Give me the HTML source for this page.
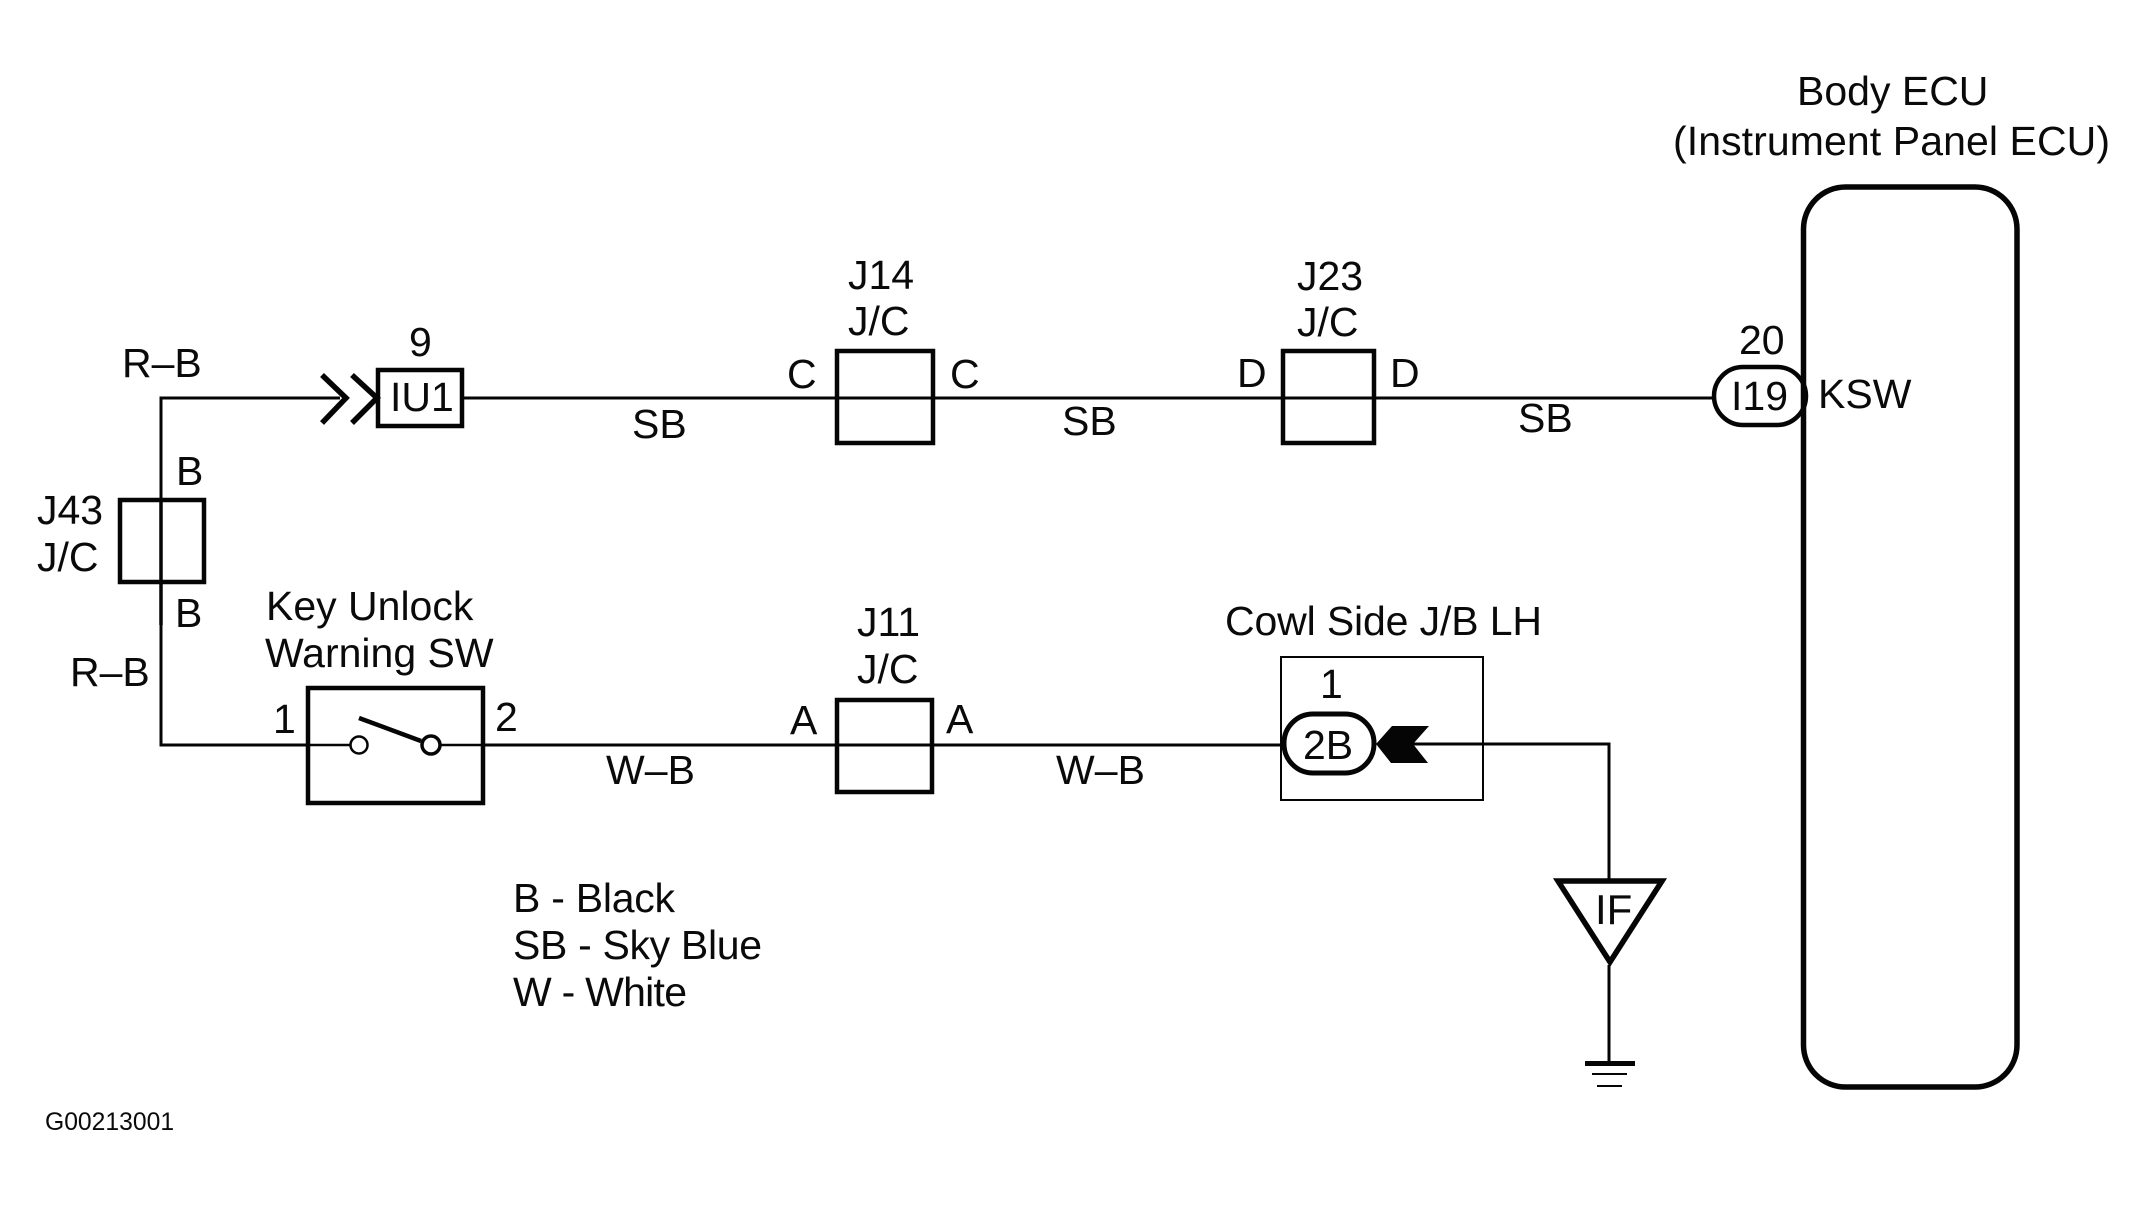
<!DOCTYPE html>
<html><head><meta charset="utf-8"><style>
html,body{margin:0;padding:0;background:#fff;width:2145px;height:1205px;overflow:hidden}
svg{display:block}
text{font-family:"Liberation Sans",sans-serif;font-size:41px;fill:#0a0a0a}
.s{fill:none;stroke:#050505}
</style></head><body>
<svg width="2145" height="1205" viewBox="0 0 2145 1205" xmlns="http://www.w3.org/2000/svg">
<g class="s" stroke-width="3">
<path d="M161 625V745H306"/>
<path d="M161 498V398H340"/>
<line x1="161" y1="498" x2="161" y2="625" stroke-width="3.5"/>
<path d="M462 398H1712"/>
<path d="M484 745H1282"/>
<path d="M306 745H350M440 745H484" stroke-width="2.5"/>
<path d="M1413 744H1609V879M1609 965V1062"/>
</g>
<g class="s" stroke-width="4.5">
<rect x="120" y="500" width="84" height="82"/>
<rect x="378" y="370" width="84" height="56"/>
<rect x="308" y="688" width="175" height="115"/>
<rect x="837" y="351" width="96" height="92"/>
<rect x="1283" y="351" width="91" height="92"/>
<rect x="837" y="700" width="95" height="92"/>
<path d="M322 375L346 398L322 423M352 375L377 398L352 423" stroke-width="5.5"/>
<line x1="359" y1="718" x2="421" y2="741" stroke-width="4.5"/>
</g>
<circle cx="359" cy="745" r="8.5" style="fill:#fff" class="s" stroke-width="2.5"/>
<circle cx="431" cy="745" r="9" style="fill:#fff" class="s" stroke-width="3.5"/>
<rect class="s" x="1281" y="657" width="202" height="143" stroke-width="2"/>
<rect x="1714" y="367" width="92" height="58" rx="29" style="fill:#fff" class="s" stroke-width="4.5"/>
<rect x="1284" y="714" width="90" height="59" rx="29" style="fill:#fff" class="s" stroke-width="5"/>
<rect class="s" x="1803.5" y="187" width="213.5" height="900" rx="42" stroke-width="5.5"/>
<polygon points="1376,744 1392,726 1429,726 1413,744 1428,763 1391,763" fill="#050505"/>
<polygon class="s" points="1558,881 1662,881 1610,962" stroke-width="5.5"/>
<rect x="1585" y="1061" width="50" height="5" fill="#050505"/>
<rect x="1592" y="1073" width="35" height="2" fill="#050505"/>
<rect x="1597" y="1085" width="25" height="2" fill="#050505"/>

<text x="1797" y="105">Body ECU</text>
<text x="1673" y="155" textLength="437">(Instrument Panel ECU)</text>
<text x="1739" y="354">20</text>
<text x="1731" y="410">I19</text>
<text x="1818" y="408">KSW</text>

<text x="122" y="377">R–B</text>
<text x="409" y="356">9</text>
<text x="390" y="411">IU1</text>
<text x="176" y="485">B</text>
<text x="37" y="524">J43</text>
<text x="37" y="571">J/C</text>
<text x="175" y="627">B</text>
<text x="70" y="686">R–B</text>
<text x="266" y="620">Key Unlock</text>
<text x="265" y="667">Warning SW</text>
<text x="273" y="733">1</text>
<text x="495" y="731">2</text>

<text x="848" y="289">J14</text>
<text x="848" y="335">J/C</text>
<text x="787" y="388">C</text>
<text x="950" y="388">C</text>
<text x="632" y="438">SB</text>

<text x="1297" y="290">J23</text>
<text x="1297" y="336">J/C</text>
<text x="1237" y="387">D</text>
<text x="1390" y="387">D</text>
<text x="1062" y="435">SB</text>
<text x="1518" y="432">SB</text>

<text x="857" y="636">J11</text>
<text x="857" y="683">J/C</text>
<text x="790" y="734">A</text>
<text x="946" y="733">A</text>
<text x="606" y="784" textLength="89">W–B</text>
<text x="1056" y="784" textLength="89">W–B</text>

<text x="1225" y="635" textLength="317">Cowl Side J/B LH</text>
<text x="1320" y="698">1</text>
<text x="1303" y="759">2B</text>
<text x="1595" y="924" style="font-size:42px">IF</text>

<text x="513" y="912" textLength="162">B - Black</text>
<text x="513" y="959" textLength="249">SB - Sky Blue</text>
<text x="513" y="1006" textLength="174">W - White</text>
<text x="45" y="1130" style="font-size:24.7px">G00213001</text>
</svg>
</body></html>
